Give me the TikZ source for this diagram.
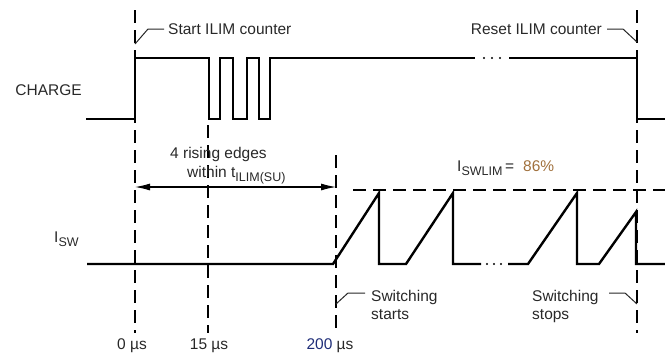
\documentclass[tikz,border=0pt]{standalone}
\usepackage{fontspec}
\setmainfont{Liberation Sans}
\usetikzlibrary{arrows.meta}
\definecolor{txt}{RGB}{40,40,40}
\definecolor{pct}{RGB}{160,112,60}
\definecolor{num}{RGB}{30,45,120}
\newcommand{\subtxt}[1]{\raisebox{-4.5pt}{\fontsize{12.5}{13}\selectfont #1}}
\begin{document}
\begin{tikzpicture}[x=1pt,y=-1pt,
  sig/.style={line width=2.4pt,line join=miter,black},
  guide/.style={line width=1.1pt,dash pattern=on 13pt off 7pt,black},
  leader/.style={line width=1pt,black!85},
  lbl/.style={inner sep=0pt,text=txt,font=\fontsize{15.5}{18}\selectfont},
  dotm/.style={circle,fill=black,inner sep=0pt,minimum size=2.2pt}]
\useasboundingbox (0,0) rectangle (665,354);

% dashed guide lines
\draw[guide] (135,10) -- (135,333);
\draw[guide] (208,125) -- (208,333);
\draw[guide] (336,155) -- (336,333);
\draw[guide] (637,10) -- (637,333);
\draw[guide] (353,190) -- (665,190);

% CHARGE signal
\draw[sig] (86,119) -- (135,119) -- (135,58) -- (209,58) -- (209,119) -- (220,119) -- (220,58)
  -- (233,58) -- (233,119) -- (247,119) -- (247,58) -- (259,58) -- (259,119) -- (270,119)
  -- (270,58) -- (475,58);
\node[dotm] (c1) at (484,58) {};
\node[dotm] (c2) at (492,58) {};
\node[dotm] (c3) at (500,58) {};
\draw[sig] (509,58) -- (637,58) -- (637,119) -- (665,119);

% I_SW signal
\draw[sig] (87,264) -- (333,264) -- (379,193) -- (379,264) -- (406,264) -- (453,193)
  -- (453,264) -- (481,264);
\node[dotm] (s1) at (487,264) {};
\node[dotm] (s2) at (494,264) {};
\node[dotm] (s3) at (501,264) {};
\draw[sig] (508,264) -- (528,264) -- (577,193) -- (577,264) -- (599,264) -- (636,212)
  -- (636,264) -- (665,264);

% t_ILIM(SU) arrow
\coordinate (a0) at (135,187);
\coordinate (a1) at (336,187);
\draw[line width=1.1pt,{Latex[length=15pt,width=7pt]}-{Latex[length=15pt,width=7pt]}] (a0) -- (a1);

% signal names
\node[lbl,anchor=base east] (charge) at (82,95) {CHARGE};
\node[lbl,anchor=base west] (isw) at (54,242) {I\subtxt{SW}};

% leaders and annotations
\node[lbl,anchor=base west] (start) at (168,34) {Start ILIM counter};
\draw[leader] (135,44) -- (148,29) -- (164,29);
\node[lbl,anchor=base east] (reset) at (602,34) {Reset ILIM counter};
\draw[leader] (607,29) -- (623,29) -- (637,42);

\node[lbl,anchor=base west] (rise) at (170,158) {4 rising edges};
\node[lbl,anchor=base west] (within) at (187,177) {within t\subtxt{ILIM(SU)}};

\node[lbl,anchor=base west] (iswlim) at (457,171) {I\subtxt{SWLIM}\,=};
\node[lbl,anchor=base west,text=pct] (pc) at (523,171) {86\%};

\node[lbl,anchor=base west] (swst) at (371,301) {Switching};
\node[lbl,anchor=base west] (swst2) at (371,319) {starts};
\draw[leader] (336,304) -- (348,293) -- (365,293);
\node[lbl,anchor=base west] (swsp) at (532,301) {Switching};
\node[lbl,anchor=base west] (swsp2) at (532,319) {stops};
\draw[leader] (609,293) -- (625,293) -- (637,304);

% time labels
\node[lbl,anchor=base] (t0) at (132,349) {0 µs};
\node[lbl,anchor=base] (t15) at (209,349) {15 µs};
\node[lbl,anchor=base] (t200) at (330,349) {\textcolor{num}{200} µs};
\end{tikzpicture}
\end{document}
